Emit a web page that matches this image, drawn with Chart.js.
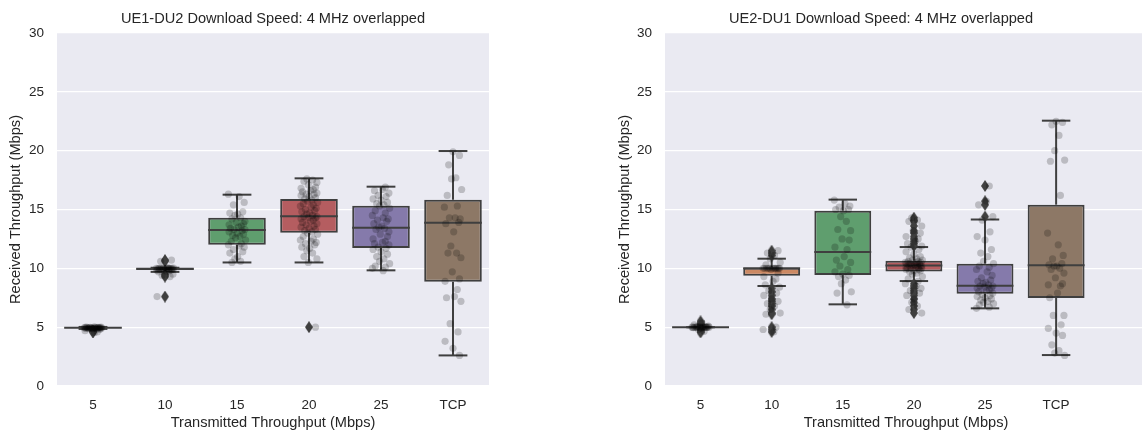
<!DOCTYPE html>
<html>
<head>
<meta charset="utf-8">
<script src="https://cdn.jsdelivr.net/npm/chart.js@4.4.0/dist/chart.umd.min.js"></script>
<style>
html, body { margin: 0; padding: 0; background: #fff; overflow: hidden; width: 1142px; height: 435px; }
#left { position: absolute; left: 0; top: 0; }
#right { position: absolute; left: 571px; top: 0; }
</style>
</head>
<body>
<canvas id="left" width="546" height="435"></canvas>
<canvas id="right" width="582" height="435"></canvas>
<script>
var categories = ['5', '10', '15', '20', '25', 'TCP'];
var yTicks = [0, 5, 10, 15, 20, 25, 30];
var boxColors = ['#5975a4', '#cc8963', '#5f9e6e', '#b55d60', '#857aab', '#8d7866'];

// UE1-DU2 (left) box stats
var ue1Q1 = [4.90, 9.85, 12.0, 13.03, 11.73, 8.87];
var ue1Median = [4.95, 9.97, 13.26, 14.42, 13.46, 13.88];
var ue1Q3 = [4.98, 10.01, 14.3, 15.89, 15.33, 15.84];
var ue1Low = [4.85, 9.7, 10.5, 10.5, 9.83, 2.6];
var ue1High = [5.02, 10.05, 16.26, 17.65, 16.94, 19.97];
var ue1Fliers = [
    [4.7, 4.6, 4.55],
    [10.7, 10.6, 9.5, 9.4, 9.3, 7.6],
    [],
    [5.0],
    [],
    []
];
var ue1Points = [
    [5.02, 5.0, 5.0, 4.99, 4.98, 4.98, 4.97, 4.97, 4.96, 4.96, 4.95, 4.95, 4.95, 4.94, 4.94, 4.93, 4.93, 4.92, 4.92, 4.91, 4.9, 4.9, 4.89, 4.88, 4.87, 4.85, 4.8, 4.7, 4.6, 4.55],
    [10.7, 10.6, 10.05, 10.03, 10.02, 10.0, 10.0, 10.0, 10.0, 10.0, 10.0, 9.99, 9.98, 9.97, 9.96, 9.95, 9.93, 9.9, 9.88, 9.85, 9.82, 9.8, 9.75, 9.7, 9.5, 9.4, 9.3, 7.6],
    [16.3, 16.1, 15.6, 15.4, 14.8, 14.7, 14.6, 14.5, 14.3, 14.2, 14.0, 13.9, 13.8, 13.7, 13.6, 13.5, 13.4, 13.3, 13.3, 13.2, 13.1, 13.0, 12.9, 12.8, 12.7, 12.6, 12.4, 12.3, 12.1, 12.0, 11.9, 11.8, 11.6, 11.4, 11.3, 11.0, 10.8, 10.6, 10.5],
    [17.6, 17.5, 17.4, 17.3, 17.1, 16.9, 16.8, 16.7, 16.6, 16.5, 16.4, 16.3, 16.3, 16.2, 16.1, 16.0, 15.9, 15.8, 15.7, 15.6, 15.5, 15.4, 15.3, 15.2, 15.1, 15.0, 14.9, 14.8, 14.7, 14.6, 14.5, 14.4, 14.4, 14.3, 14.3, 14.2, 14.1, 14.0, 13.9, 13.8, 13.7, 13.6, 13.5, 13.4, 13.3, 13.2, 13.1, 13.0, 12.9, 12.7, 12.5, 12.4, 12.3, 12.2, 12.1, 12.0, 11.8, 11.7, 11.5, 11.3, 11.0, 10.8, 10.5, 5.0],
    [16.9, 16.7, 16.6, 16.4, 16.2, 16.1, 15.9, 15.8, 15.6, 15.5, 15.4, 15.3, 15.1, 14.9, 14.7, 14.5, 14.3, 14.2, 14.1, 14.0, 13.8, 13.6, 13.5, 13.4, 13.3, 13.1, 12.9, 12.7, 12.5, 12.3, 12.2, 12.1, 12.0, 11.8, 11.7, 11.6, 11.4, 11.2, 11.0, 10.8, 10.6, 10.4, 10.2, 10.1, 10.0, 9.8],
    [19.9, 19.6, 18.8, 17.7, 17.6, 16.7, 16.2, 15.3, 15.2, 14.3, 14.2, 14.3, 13.9, 13.8, 13.1, 11.9, 11.3, 11.3, 10.9, 9.7, 9.1, 8.9, 8.2, 7.6, 7.5, 7.2, 5.3, 4.6, 3.8, 3.2, 2.6]
];

// UE2-DU1 (right)
var ue2Q1 = [5.0, 9.38, 9.43, 9.74, 7.85, 7.48];
var ue2Median = [5.0, 10.0, 11.39, 10.25, 8.53, 10.26];
var ue2Q3 = [5.0, 10.06, 14.9, 10.65, 10.4, 15.41];
var ue2Low = [5.0, 8.5, 6.94, 8.92, 6.6, 2.63];
var ue2High = [5.0, 10.82, 15.84, 11.81, 14.15, 22.55];
var ue2Fliers = [
    [5.5, 5.35, 5.2, 4.8, 4.65, 4.55],
    [11.5, 11.3, 11.1, 8.3, 8.0, 7.7, 7.4, 7.2, 7.0, 6.8, 6.5, 6.2, 6.1, 5.0, 4.8, 4.6],
    [],
    [14.3, 14.1, 14.0, 13.6, 13.2, 13.0, 12.7, 12.5, 12.3, 12.1, 11.9, 8.7, 8.5, 8.3, 8.1, 7.9, 7.7, 7.4, 7.1, 6.8, 6.5, 6.2],
    [17.0, 15.7, 15.4, 14.4],
    []
];
var ue2Points = [
    [5.35, 5.2, 5.1, 5.05, 5.02, 5.0, 5.0, 5.0, 5.0, 5.0, 5.0, 5.0, 5.0, 5.0, 5.0, 5.0, 5.0, 5.0, 4.98, 4.95, 4.9, 4.8, 4.65],
    [11.5, 11.3, 11.1, 10.8, 10.5, 10.3, 10.0, 10.0, 10.0, 10.0, 10.0, 10.0, 10.0, 10.0, 10.0, 10.0, 10.0, 10.0, 9.9, 9.6, 9.3, 9.1, 8.9, 8.6, 8.4, 8.1, 7.9, 7.7, 7.4, 7.2, 7.0, 6.8, 6.5, 6.2, 6.1, 5.0, 4.8, 4.6],
    [15.8, 15.5, 15.3, 15.2, 15.0, 15.0, 14.9, 14.4, 14.0, 13.3, 13.2, 12.5, 12.4, 11.8, 11.6, 11.0, 10.7, 10.5, 10.2, 9.9, 9.7, 9.5, 9.4, 9.3, 9.0, 8.7, 8.0, 7.9, 6.9],
    [14.3, 14.1, 14.0, 13.6, 13.2, 13.0, 12.7, 12.5, 12.3, 12.1, 11.9, 11.8, 11.6, 11.4, 11.2, 11.0, 10.9, 10.8, 10.7, 10.7, 10.6, 10.6, 10.5, 10.5, 10.5, 10.4, 10.4, 10.4, 10.3, 10.3, 10.3, 10.3, 10.2, 10.2, 10.2, 10.1, 10.1, 10.1, 10.0, 10.0, 10.0, 9.9, 9.9, 9.8, 9.8, 9.7, 9.6, 9.5, 9.3, 9.1, 8.9, 8.7, 8.5, 8.3, 8.1, 7.9, 7.7, 7.4, 7.1, 6.8, 6.5, 6.2],
    [17.0, 15.7, 15.4, 14.4, 14.1, 13.1, 12.7, 12.4, 11.6, 11.3, 11.0, 10.6, 10.4, 10.2, 10.1, 9.9, 9.7, 9.4, 9.2, 9.0, 8.9, 8.8, 8.7, 8.6, 8.5, 8.5, 8.4, 8.3, 8.3, 8.2, 8.1, 8.0, 7.9, 7.8, 7.7, 7.6, 7.5, 7.4, 7.3, 7.2, 7.1, 7.0, 6.9, 6.7, 6.6],
    [22.5, 22.4, 22.2, 21.3, 20.0, 19.2, 19.1, 16.2, 13.0, 12.0, 11.1, 10.8, 10.4, 10.3, 10.2, 10.2, 10.0, 9.9, 9.6, 9.2, 8.7, 8.6, 8.5, 7.9, 7.5, 6.0, 6.0, 5.2, 4.9, 4.5, 4.3, 3.5, 3.0, 2.8, 2.6]
];

// fixed strip jitter pattern (category units)
var jitter = [0.02, -0.09, 0.11, -0.04, 0.07, -0.11, 0.0, 0.09, -0.06, 0.04, -0.02, 0.12, -0.08, 0.06, -0.12, 0.03, 0.10, -0.05, 0.08, -0.10, 0.01, -0.03, 0.05, -0.07, 0.11, -0.01, 0.09, -0.11, 0.06];

var lineColor = '#3f3f3f';
var textColor = '#262626';
Chart.defaults.font.family = "'Liberation Sans', Arial, sans-serif";

function diamond() {
    var c = document.createElement('canvas');
    c.width = 8; c.height = 12;
    var g = c.getContext('2d');
    g.fillStyle = lineColor;
    g.beginPath();
    g.moveTo(4, 0); g.lineTo(8, 6); g.lineTo(4, 12); g.lineTo(0, 6);
    g.closePath();
    g.fill();
    return c;
}

function boxParts(st) {
    return {
        id: 'boxParts',
        beforeDraw: function (chart) {
            var a = chart.chartArea, ctx = chart.ctx;
            ctx.save();
            ctx.fillStyle = '#eaeaf2';
            ctx.fillRect(a.left, a.top, a.right - a.left, a.bottom - a.top);
            ctx.restore();
        },
        afterDatasetDraw: function (chart, args) {
            if (args.index !== 0) return;
            var xs = chart.scales.x, ys = chart.scales.y, ctx = chart.ctx;
            ctx.save();
            ctx.strokeStyle = lineColor;
            ctx.lineWidth = 2;
            function line(x1, y1, x2, y2) {
                ctx.beginPath(); ctx.moveTo(x1, y1); ctx.lineTo(x2, y2); ctx.stroke();
            }
            for (var i = 0; i < categories.length; i++) {
                var cx = xs.getPixelForValue(i);
                var hw = xs.getPixelForValue(i + 0.4) - cx;
                var cw = hw / 2;
                var q1 = ys.getPixelForValue(st.q1[i]);
                var q3 = ys.getPixelForValue(st.q3[i]);
                var lo = ys.getPixelForValue(st.low[i]);
                var hi = ys.getPixelForValue(st.high[i]);
                var md = ys.getPixelForValue(st.median[i]);
                line(cx, q1, cx, lo);
                line(cx, q3, cx, hi);
                line(cx - cw, lo, cx + cw, lo);
                line(cx - cw, hi, cx + cw, hi);
                line(cx - hw, md, cx + hw, md);
            }
            ctx.restore();
        }
    };
}

function drawPanel(id, title, st, xMax, padLeft, padRight, axisWidth, titleFull) {
    var boxes = categories.map(function (c, i) { return { x: i, y: [st.q1[i], st.q3[i]] }; });
    var fl = [], pts = [];
    categories.forEach(function (c, i) {
        st.fliers[i].forEach(function (v) { fl.push({ x: i, y: v }); });
        st.points[i].forEach(function (v, k) {
            pts.push({ x: i + jitter[(k + i * 7) % jitter.length], y: v });
        });
    });

    new Chart(document.getElementById(id), {
        type: 'bar',
        data: {
            datasets: [{
                data: boxes,
                backgroundColor: boxColors,
                borderColor: lineColor,
                borderWidth: 2,
                borderSkipped: false,
                barPercentage: 1,
                categoryPercentage: 0.8,
                order: 3
            }, {
                type: 'scatter',
                data: fl,
                pointStyle: diamond(),
                pointRadius: 5,
                order: 2
            }, {
                type: 'scatter',
                data: pts,
                pointRadius: 3.6,
                backgroundColor: 'rgba(0,0,0,0.2)',
                borderWidth: 0,
                order: 1
            }]
        },
        options: {
            responsive: false,
            animation: false,
            layout: { padding: { left: padLeft, right: padRight, top: 0, bottom: 0 } },
            plugins: {
                legend: { display: false },
                tooltip: { enabled: false },
                title: {
                    display: true,
                    fullSize: titleFull,
                    text: title,
                    color: textColor,
                    font: { size: 14.6, weight: 'normal' },
                    padding: { top: 10.2, bottom: 5.3 }
                }
            },
            scales: {
                x: {
                    type: 'linear',
                    min: -0.5,
                    max: xMax,
                    offset: false,
                    afterBuildTicks: function (sc) {
                        sc.ticks = categories.map(function (c, i) { return { value: i }; });
                    },
                    afterFit: function (sc) { sc.height = 49; },
                    grid: { display: false, drawTicks: false, offset: false },
                    border: { display: false },
                    ticks: {
                        color: textColor,
                        font: { size: 13.5 },
                        padding: 11,
                        callback: function (v) { return categories[v]; }
                    },
                    title: {
                        display: true,
                        text: 'Transmitted Throughput (Mbps)',
                        color: textColor,
                        font: { size: 14.6 },
                        padding: { top: 0, bottom: 3.2 }
                    }
                },
                y: {
                    min: 0,
                    max: 30,
                    afterBuildTicks: function (sc) {
                        sc.ticks = yTicks.map(function (v) { return { value: v }; });
                    },
                    afterFit: function (sc) { sc.width = axisWidth; },
                    grid: { color: '#ffffff', lineWidth: 1.2, drawTicks: false },
                    border: { display: false },
                    ticks: { color: textColor, font: { size: 13.5 }, padding: 13 },
                    title: {
                        display: true,
                        text: 'Received Throughput (Mbps)',
                        color: textColor,
                        font: { size: 14.6 },
                        padding: { top: 7.2, bottom: 0 }
                    }
                }
            }
        },
        plugins: [boxParts(st)]
    });
}

drawPanel('left', 'UE1-DU2 Download Speed: 4 MHz overlapped', {
    q1: ue1Q1, median: ue1Median, q3: ue1Q3, low: ue1Low, high: ue1High,
    fliers: ue1Fliers, points: ue1Points
}, 5.5, 0, 57, 57, false);

drawPanel('right', 'UE2-DU1 Download Speed: 4 MHz overlapped', {
    q1: ue2Q1, median: ue2Median, q3: ue2Q3, low: ue2Low, high: ue2High,
    fliers: ue2Fliers, points: ue2Points
}, 6.278, 38, 0, 56, true);
</script>
</body>
</html>
